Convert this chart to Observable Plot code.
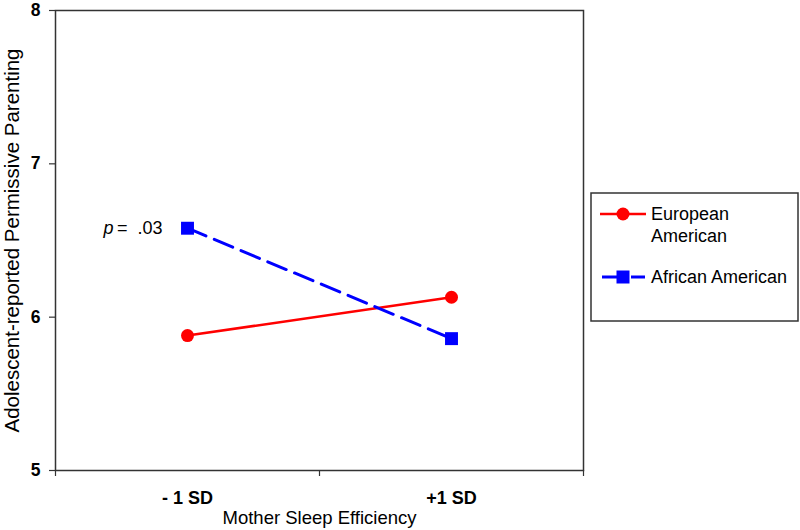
<!DOCTYPE html>
<html>
<head>
<meta charset="utf-8">
<script src="https://cdn.jsdelivr.net/npm/d3@7"></script>
<script src="https://cdn.jsdelivr.net/npm/@observablehq/plot@0.6"></script>
<style>
  html, body { margin: 0; padding: 0; background: #fff; }
  #chart svg { display: block; }
</style>
</head>
<body>
<div id="chart"></div>
<script>
const categories = ["- 1 SD", "+1 SD"];
const groups = ["European American", "African American"];
const european = [5.88, 6.13];
const african = [6.58, 5.86];
const yTicks = [5, 6, 7, 8];
const yTickLabels = ["5", "6", "7", "8"];
const pText = "=  .03";
const xTitle = "Mother Sleep Efficiency";
const yTitle = "Adolescent-reported Permissive Parenting";

const data = categories.flatMap((c, i) => [
  {cat: c, group: groups[0], value: european[i]},
  {cat: c, group: groups[1], value: african[i]}
]);
const xOf = d => categories.indexOf(d.cat) + 0.5;
const eu = data.filter(d => d.group === groups[0]);
const af = data.filter(d => d.group === groups[1]);
const pPoint = [af[0]];
const yMin = yTicks[0];

const font = "'Liberation Sans', Arial, sans-serif";

const chart = Plot.plot({
  width: 800,
  height: 530,
  marginLeft: 55,
  marginRight: 217,
  marginTop: 10,
  marginBottom: 60,
  style: {fontFamily: font, background: "#fff", color: "#000"},
  x: {domain: [0, 2]},
  y: {domain: [5, 8]},
  color: {domain: groups, range: ["#ff0000", "#0000ff"]},
  marks: [
    Plot.frame({stroke: "#333", strokeWidth: 1.5}),
    Plot.axisY({ticks: yTicks, tickSize: 6, tickFormat: () => "", label: null, stroke: "#333", strokeWidth: 1.2}),
    Plot.axisX({ticks: [0, 1, 2], tickSize: 6, tickFormat: () => "", label: null, stroke: "#333", strokeWidth: 1.2}),
    Plot.text(yTicks, {x: 0, y: d => d, text: (d, i) => yTickLabels[i], textAnchor: "end", dx: -15, fontSize: 17.5, fontWeight: 700, lineAnchor: "middle"}),
    Plot.text(categories, {x: (d, i) => i + 0.5, y: yMin, text: d => d, dy: 28, fontSize: 18, fontWeight: 700, lineAnchor: "middle"}),
    Plot.text([xTitle], {frameAnchor: "bottom", dy: 48, fontSize: 18.5, textAnchor: "middle", lineAnchor: "middle"}),
    Plot.text([yTitle], {frameAnchor: "left", dx: -43, rotate: -90, fontSize: 20.5, textAnchor: "middle", lineAnchor: "middle"}),
    Plot.line(eu, {x: xOf, y: "value", stroke: "group", strokeWidth: 2.5}),
    Plot.line(af, {x: xOf, y: "value", stroke: "group", strokeWidth: 3, strokeDasharray: "20,9"}),
    Plot.dot(eu, {x: xOf, y: "value", fill: "group", r: 6.5, symbol: "circle"}),
    Plot.dot(af, {x: xOf, y: "value", fill: "group", r: 7.3, symbol: "square"}),
    Plot.text(pPoint, {x: xOf, y: "value", text: () => pText, textAnchor: "end", dx: -25, fontSize: 18, lineAnchor: "middle"}),
    Plot.text(pPoint, {x: xOf, y: "value", text: () => "p", textAnchor: "end", dx: -74, fontSize: 18, fontStyle: "italic", lineAnchor: "middle"})
  ]
});

document.getElementById("chart").appendChild(chart);
d3.select(chart).selectAll("text").filter(function () { return this.textContent === pText; })
  .attr("xml:space", "preserve").style("white-space", "pre");

// Legend (outside the plot frame, on the right)
const svg = d3.select(chart);
const lg = svg.append("g").attr("font-family", font).attr("font-size", 18).attr("text-anchor", "start");
lg.append("rect").attr("x", 591).attr("y", 193).attr("width", 207).attr("height", 128)
  .attr("fill", "#fff").attr("stroke", "#333").attr("stroke-width", 1.5);
// European American
lg.append("line").attr("x1", 600).attr("x2", 646).attr("y1", 214).attr("y2", 214)
  .attr("stroke", "#ff0000").attr("stroke-width", 2.5);
lg.append("circle").attr("cx", 623).attr("cy", 214).attr("r", 6.5).attr("fill", "#ff0000");
const t1 = lg.append("text").attr("x", 651).attr("y", 220);
t1.append("tspan").attr("x", 651).text("European");
t1.append("tspan").attr("x", 651).attr("dy", 22).text("American");
// African American
lg.append("line").attr("x1", 602).attr("x2", 645).attr("y1", 277).attr("y2", 277)
  .attr("stroke", "#0000ff").attr("stroke-width", 3).attr("stroke-dasharray", "20,9");
lg.append("rect").attr("x", 616.5).attr("y", 270.5).attr("width", 13).attr("height", 13).attr("fill", "#0000ff");
lg.append("text").attr("x", 651).attr("y", 283).text(groups[1]);
</script>
</body>
</html>
